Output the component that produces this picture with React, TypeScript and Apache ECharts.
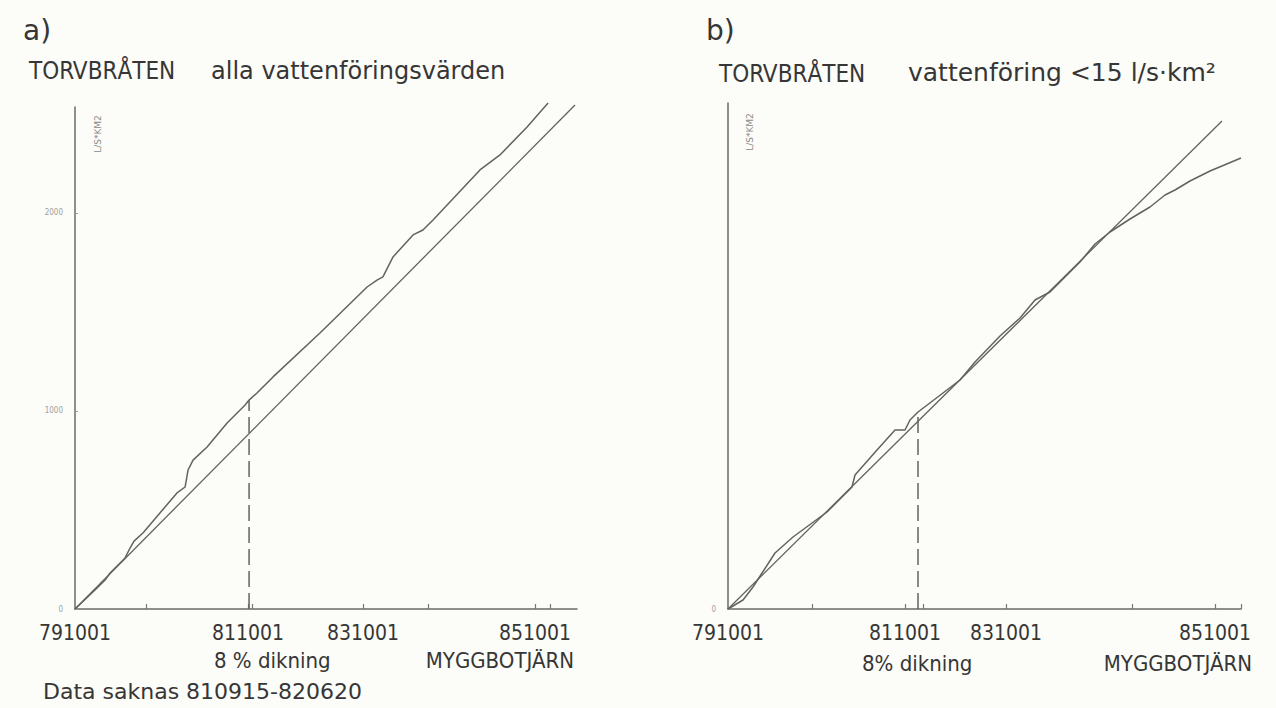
import React, { useEffect, useRef } from "react";
import * as echarts from "echarts";

// Panel a: cumulative runoff, Torvbråten (y) vs Myggbotjärn (x), all flows
const curveA: number[][] = [
  [0, 0], [101, 96], [152, 146], [177, 182], [253, 258], [278, 308], [298, 343],
  [343, 384], [429, 485], [515, 586], [556, 616], [571, 702], [596, 752],
  [667, 818], [768, 939], [859, 1030], [879, 1055], [919, 1091], [1000, 1172],
  [1237, 1394], [1475, 1626], [1525, 1661], [1555, 1677], [1606, 1778],
  [1707, 1889], [1757, 1914], [1808, 1964], [2045, 2217], [2146, 2293],
  [2283, 2434], [2389, 2555],
];
const refLineA: number[][] = [[0, 0], [2525, 2545]];
const ditchA: number[][] = [[879, 0], [879, 1055]];
const xTicksA = [359, 874, 894, 1454, 1783, 2323, 2399];
const xLabelValsA = [0, 874, 1454, 2323];
const xLabelTextsA = ["791001", "811001", "831001", "851001"];
const yTicksA = [0, 1000, 2000];

// Panel b: flows < 15 l/s·km2
const curveB: number[][] = [
  [0, 0], [30, 18], [50, 44], [94, 112], [130, 144], [198, 194], [248, 244],
  [254, 268], [298, 318], [334, 358], [354, 358], [364, 378], [380, 394],
  [430, 432], [464, 458], [494, 494], [544, 546], [584, 582], [614, 618],
  [644, 634], [704, 694], [734, 730], [764, 754], [804, 780], [844, 804],
  [874, 828], [894, 838], [924, 856], [964, 876], [1026, 902],
];
const refLineB: number[][] = [[0, 0], [988, 976]];
const ditchB: number[][] = [[380, 0], [380, 394]];
const xTicksB = [168, 354, 390, 556, 808, 974, 1026];
const xLabelValsB = [0, 354, 556, 974];
const xLabelTextsB = ["791001", "811001", "831001", "851001"];
const yTicksB = [0];

const FONT = '"DejaVu Sans Condensed", "DejaVu Sans", sans-serif';
const FONT_W = '"DejaVu Sans", sans-serif';
const INK = "#363636";
const LINE = "#626262";

function labelFor(vals: number[], texts: string[]) {
  return (v: number) => {
    for (let i = 0; i < vals.length; i++) {
      if (Math.abs(vals[i] - v) < 0.5) return texts[i];
    }
    return "";
  };
}

function xAxisCfg(gridIndex: number, max: number, ticks: number[], lv: number[], lt: string[]) {
  return {
    type: "value",
    gridIndex,
    min: 0,
    max,
    splitLine: { show: false },
    axisLine: { show: true, lineStyle: { color: "#6a6a6a", width: 1.5 } },
    axisTick: { show: true, inside: true, length: 5, customValues: ticks, lineStyle: { color: "#777", width: 1.2 } },
    axisLabel: {
      show: true,
      customValues: lv,
      formatter: labelFor(lv, lt),
      fontFamily: FONT,
      fontSize: 21,
      color: INK,
      margin: 13,
    },
  };
}

function yAxisCfg(gridIndex: number, max: number, ticks: number[]) {
  return {
    type: "value",
    gridIndex,
    min: 0,
    max,
    splitLine: { show: false },
    axisLine: { show: true, onZero: false, lineStyle: { color: "#6a6a6a", width: 1.5 } },
    axisTick: { show: true, inside: true, length: 3, customValues: ticks, lineStyle: { color: "#999" } },
    axisLabel: {
      show: true,
      customValues: ticks,
      formatter: (v: number) => String(v),
      fontFamily: FONT,
      fontSize: 8,
      color: "#a0a0a0",
      margin: 12,
    },
  };
}

function lineSeries(name: string, data: number[][], idx: number, width: number, dashed?: boolean) {
  return {
    name,
    type: "line",
    xAxisIndex: idx,
    yAxisIndex: idx,
    data,
    showSymbol: false,
    symbol: "none",
    clip: false,
    smooth: false,
    lineStyle: {
      color: LINE,
      width,
      type: dashed ? [16, 6] : "solid",
    },
    silent: true,
  };
}

function txt(text: string, x: number, y: number, size: number, align = "left", family = FONT) {
  return {
    type: "text",
    x,
    y,
    silent: true,
    style: {
      text,
      fill: INK,
      font: `${size}px ${family}`,
      textAlign: align,
      textVerticalAlign: "middle",
    },
  };
}

function unitLabel(x: number, y: number) {
  return {
    type: "text",
    x,
    y,
    rotation: Math.PI / 2,
    silent: true,
    style: {
      text: "L/S*KM2",
      fill: "#8a8a8a",
      font: `9px ${FONT_W}`,
      textAlign: "center",
      textVerticalAlign: "middle",
    },
  };
}

export default function App() {
  const ref = useRef<HTMLDivElement>(null);
  useEffect(() => {
    if (!ref.current) return;
    const chart = echarts.init(ref.current, undefined, { renderer: "svg" });
    chart.setOption({
      animation: false,
      backgroundColor: "#fcfcf8",
      grid: [
        { left: 75, top: 107, width: 502, height: 502, containLabel: false },
        { left: 728, top: 103, width: 513, height: 506, containLabel: false },
      ],
      xAxis: [
        xAxisCfg(0, 2535, xTicksA, xLabelValsA, xLabelTextsA),
        xAxisCfg(1, 1026, xTicksB, xLabelValsB, xLabelTextsB),
      ],
      yAxis: [yAxisCfg(0, 2535, yTicksA), yAxisCfg(1, 1012, yTicksB)],
      series: [
        lineSeries("Torvbråten a", curveA, 0, 1.5),
        lineSeries("Referens a", refLineA, 0, 1.3),
        lineSeries("Dikning a", ditchA, 0, 1.5, true),
        lineSeries("Torvbråten b", curveB, 1, 1.5),
        lineSeries("Referens b", refLineB, 1, 1.3),
        lineSeries("Dikning b", ditchB, 1, 1.5, true),
      ],
      graphic: [
        txt("a)", 23, 30, 28, "left", FONT_W),
        txt("TORVBRÅTEN", 29, 71, 24),
        txt("alla vattenföringsvärden", 211, 71, 24, "left", FONT_W),
        txt("b)", 706, 30, 28, "left", FONT_W),
        txt("TORVBRÅTEN", 719, 74, 24),
        txt("vattenföring <15 l/s·km²", 908, 72, 25, "left", FONT_W),
        unitLabel(98, 134),
        unitLabel(750, 132),
        txt("8 % dikning", 214, 660, 22),
        txt("MYGGBOTJÄRN", 574, 660, 22, "right"),
        txt("Data saknas 810915-820620", 43, 691, 22, "left", FONT_W),
        txt("8% dikning", 862, 663, 22),
        txt("MYGGBOTJÄRN", 1252, 663, 22, "right"),
      ],
    });
    return () => chart.dispose();
  }, []);
  return (
    <div
      ref={ref}
      style={{ position: "fixed", left: 0, top: 0, width: 1276, height: 708 }}
    />
  );
}
